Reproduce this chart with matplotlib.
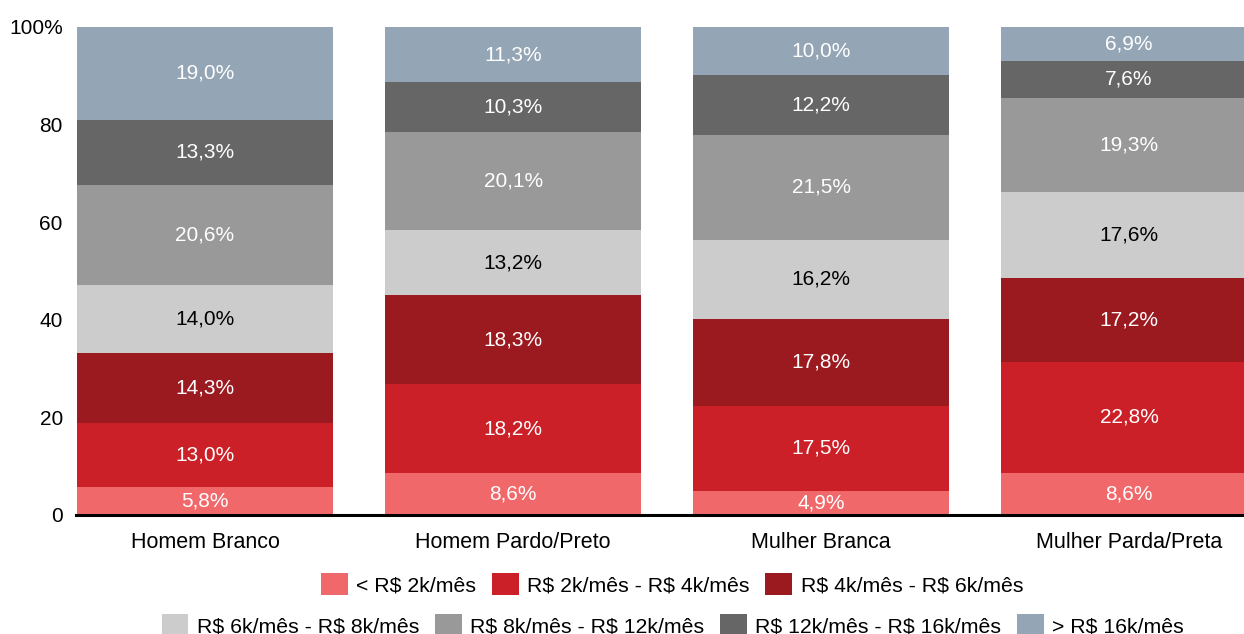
import matplotlib
matplotlib.use("Agg")
import matplotlib.pyplot as plt
from matplotlib.patches import Patch
from matplotlib.ticker import FixedLocator, FixedFormatter

plt.rcParams['font.family'] = ['Liberation Sans', 'DejaVu Sans']
plt.rcParams['text.parse_math'] = False

categories = ["Homem Branco", "Homem Pardo/Preto", "Mulher Branca", "Mulher Parda/Preta"]
series_names = [
    "< R$ 2k/mês",
    "R$ 2k/mês - R$ 4k/mês",
    "R$ 4k/mês - R$ 6k/mês",
    "R$ 6k/mês - R$ 8k/mês",
    "R$ 8k/mês - R$ 12k/mês",
    "R$ 12k/mês - R$ 16k/mês",
    "> R$ 16k/mês",
]
lt_2k = [5.8, 8.6, 4.9, 8.6]
r2k_4k = [13.0, 18.2, 17.5, 22.8]
r4k_6k = [14.3, 18.3, 17.8, 17.2]
r6k_8k = [14.0, 13.2, 16.2, 17.6]
r8k_12k = [20.6, 20.1, 21.5, 19.3]
r12k_16k = [13.3, 10.3, 12.2, 7.6]
gt_16k = [19.0, 11.3, 10.0, 6.9]
series = [lt_2k, r2k_4k, r4k_6k, r6k_8k, r8k_12k, r12k_16k, gt_16k]

colors = ["#F0686A", "#CC2028", "#9B1A20", "#CCCCCC", "#999999", "#666666", "#94A5B5"]
label_colors = ["white", "white", "white", "black", "white", "white", "white"]

y_ticks = [0, 20, 40, 60, 80, 100]
y_tick_labels = ["0", "20", "40", "60", "80", "100%"]

W, H = 1244, 634
fig = plt.figure(figsize=(W / 100, H / 100), dpi=100)
ax = fig.add_axes([76 / W, (H - 515) / H, (W - 76) / W, (515 - 27) / H])

x = list(range(len(categories)))
bar_w = 0.831
bottoms = [0.0] * len(categories)
for vals, col, lc in zip(series, colors, label_colors):
    ax.bar(x, vals, width=bar_w, bottom=bottoms, color=col, linewidth=0, zorder=2)
    for xi, v, b in zip(x, vals, bottoms):
        ax.text(xi, b + v / 2, f"{v:.1f}%".replace(".", ","), ha="center", va="center",
                color=lc, fontsize=15, zorder=3)
    bottoms = [b + v for b, v in zip(bottoms, vals)]

ax.set_xlim(-0.419, 3.373)
ax.set_ylim(0, 100)
ax.yaxis.set_major_locator(FixedLocator(y_ticks))
ax.yaxis.set_major_formatter(FixedFormatter(y_tick_labels))
ax.set_xticks(x)
ax.set_xticklabels(categories)
ax.tick_params(axis="y", length=0, labelsize=15, pad=9.5)
ax.tick_params(axis="x", length=0, labelsize=15.5, pad=12)
for side in ["top", "right", "left"]:
    ax.spines[side].set_visible(False)
ax.spines["bottom"].set_linewidth(2.2)
ax.spines["bottom"].set_color("black")
ax.spines["bottom"].set_zorder(4)

handles = [Patch(facecolor=c, edgecolor="none") for c in colors]
common = dict(loc="center", frameon=False, fontsize=15.3, handlelength=1.25,
              handleheight=1.25, handletextpad=0.4, columnspacing=0.75, borderpad=0)
fig.legend(handles[:3], series_names[:3], ncol=3,
           bbox_to_anchor=(672 / W, 1 - 584 / H), **common)
fig.legend(handles[3:], series_names[3:], ncol=4,
           bbox_to_anchor=(673 / W, 1 - 625 / H), **common)

fig.savefig("out.png", dpi=100)
